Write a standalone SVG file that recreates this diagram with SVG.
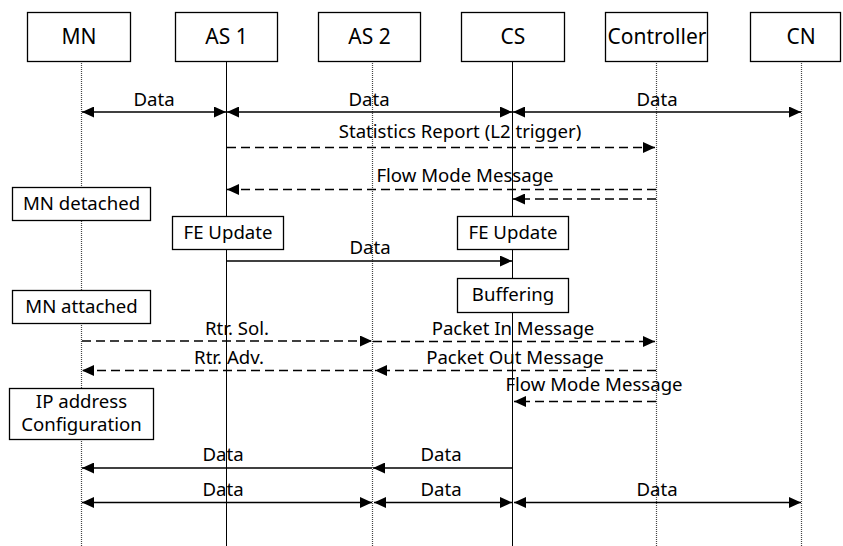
<svg xmlns="http://www.w3.org/2000/svg" width="843" height="546" viewBox="0 0 843 546">
<style>
text{font-family:"Noto Sans","Open Sans","DejaVu Sans",sans-serif;fill:#000}
.hdr{font-size:21px;text-anchor:middle}
.lbl{font-size:18.6px;text-anchor:middle}
.box{fill:#fff;stroke:#000;stroke-width:1.3}
.ls{stroke:#000;stroke-width:1;fill:none}
.ld{stroke:#444;stroke-width:1.2;stroke-dasharray:1 1;fill:none}
.m{stroke:#000;stroke-width:1.4;fill:none}
.d{stroke-dasharray:9 5}
</style>
<defs>
<marker id="ah" markerUnits="userSpaceOnUse" markerWidth="12" markerHeight="11" refX="12" refY="5.5" orient="auto-start-reverse">
<path d="M0,0 L12,5.5 L0,11 z" fill="#000"/>
</marker>
</defs>
<rect width="843" height="546" fill="#fff"/>
<g id="lifelines">
<line class="ld" x1="81.5" y1="61" x2="81.5" y2="546"/>
<line class="ls" x1="226.5" y1="61" x2="226.5" y2="546"/>
<line class="ld" x1="372.5" y1="61" x2="372.5" y2="546"/>
<line class="ls" x1="512.5" y1="61" x2="512.5" y2="546"/>
<line class="ld" x1="656.5" y1="61" x2="656.5" y2="546"/>
<line class="ld" x1="801.5" y1="61" x2="801.5" y2="546"/>
</g>
<g id="MN"><rect class="box" x="27.5" y="12.5" width="103" height="49"/><text class="hdr" x="79" y="44">MN</text></g>
<g id="AS1"><rect class="box" x="175.5" y="12.5" width="102" height="49"/><text class="hdr" x="226.5" y="44">AS 1</text></g>
<g id="AS2"><rect class="box" x="318.5" y="12.5" width="102" height="49"/><text class="hdr" x="369.5" y="44">AS 2</text></g>
<g id="CS"><rect class="box" x="461.5" y="12.5" width="103" height="49"/><text class="hdr" x="513" y="44">CS</text></g>
<g id="Controller"><rect class="box" x="605.5" y="12.5" width="102" height="49"/><text class="hdr" x="657" y="44">Controller</text></g>
<g id="CN"><rect class="box" x="750.5" y="12.5" width="90" height="49"/><text class="hdr" x="801" y="44">CN</text></g>
<g id="connectors">
<line class="m" x1="82" y1="112" x2="226" y2="112" marker-start="url(#ah)" marker-end="url(#ah)"/>
<line class="m" x1="227" y1="112" x2="512" y2="112" marker-start="url(#ah)" marker-end="url(#ah)"/>
<line class="m" x1="513" y1="112" x2="801" y2="112" marker-start="url(#ah)" marker-end="url(#ah)"/>
<line class="m d" x1="227" y1="147.5" x2="655" y2="147.5" marker-end="url(#ah)"/>
<line class="m d" x1="656" y1="189.5" x2="227" y2="189.5" marker-end="url(#ah)"/>
<line class="m d" x1="656" y1="199" x2="513" y2="199" marker-end="url(#ah)"/>
<line class="m" x1="227" y1="261" x2="512" y2="261" marker-end="url(#ah)"/>
<line class="m d" x1="82" y1="341" x2="372" y2="341" marker-end="url(#ah)"/>
<line class="m d" x1="373" y1="341.5" x2="655" y2="341.5" marker-end="url(#ah)"/>
<line class="m d" x1="656" y1="370.5" x2="375" y2="370.5" marker-end="url(#ah)"/>
<line class="m d" x1="372" y1="370.5" x2="82" y2="370.5" marker-end="url(#ah)"/>
<line class="m d" x1="656" y1="401.5" x2="514" y2="401.5" marker-end="url(#ah)"/>
<line class="m" x1="512" y1="468" x2="373" y2="468" marker-end="url(#ah)"/>
<line class="m" x1="372" y1="468" x2="82" y2="468" marker-end="url(#ah)"/>
<line class="m" x1="82" y1="502.5" x2="372" y2="502.5" marker-start="url(#ah)" marker-end="url(#ah)"/>
<line class="m" x1="374" y1="502.5" x2="512" y2="502.5" marker-start="url(#ah)" marker-end="url(#ah)"/>
<line class="m" x1="514" y1="502.5" x2="801" y2="502.5" marker-start="url(#ah)" marker-end="url(#ah)"/>
<text class="lbl" x="154" y="106">Data</text>
<text class="lbl" x="369" y="106">Data</text>
<text class="lbl" x="657" y="106">Data</text>
<text class="lbl" x="460" y="138">Statistics Report (L2 trigger)</text>
<text class="lbl" x="465" y="182">Flow Mode Message</text>
<text class="lbl" x="370" y="254">Data</text>
<text class="lbl" x="237" y="335">Rtr. Sol.</text>
<text class="lbl" x="513" y="335">Packet In Message</text>
<text class="lbl" x="229" y="364">Rtr. Adv.</text>
<text class="lbl" x="515" y="364">Packet Out Message</text>
<text class="lbl" x="594" y="391">Flow Mode Message</text>
<text class="lbl" x="223" y="461">Data</text>
<text class="lbl" x="441" y="461">Data</text>
<text class="lbl" x="223" y="496">Data</text>
<text class="lbl" x="441" y="496">Data</text>
<text class="lbl" x="657" y="496">Data</text>
</g>
<g id="mn-detached"><rect class="box" x="12.5" y="187.5" width="138" height="33"/><text class="lbl" x="81.5" y="210">MN detached</text></g>
<g id="fe-update-as1"><rect class="box" x="172.5" y="216.5" width="111" height="33"/><text class="lbl" x="228" y="239">FE Update</text></g>
<g id="fe-update-cs"><rect class="box" x="457.5" y="216.5" width="111" height="33"/><text class="lbl" x="513" y="239">FE Update</text></g>
<g id="buffering"><rect class="box" x="457.5" y="278.5" width="111" height="34"/><text class="lbl" x="513" y="301">Buffering</text></g>
<g id="mn-attached"><rect class="box" x="12.5" y="290.5" width="138" height="33"/><text class="lbl" x="81.5" y="313">MN attached</text></g>
<g id="ip-config"><rect class="box" x="9.5" y="388.5" width="144" height="51"/><text class="lbl" x="81.5" y="408"><tspan x="81.5">IP address</tspan><tspan x="81.5" dy="23">Configuration</tspan></text></g>
</svg>
